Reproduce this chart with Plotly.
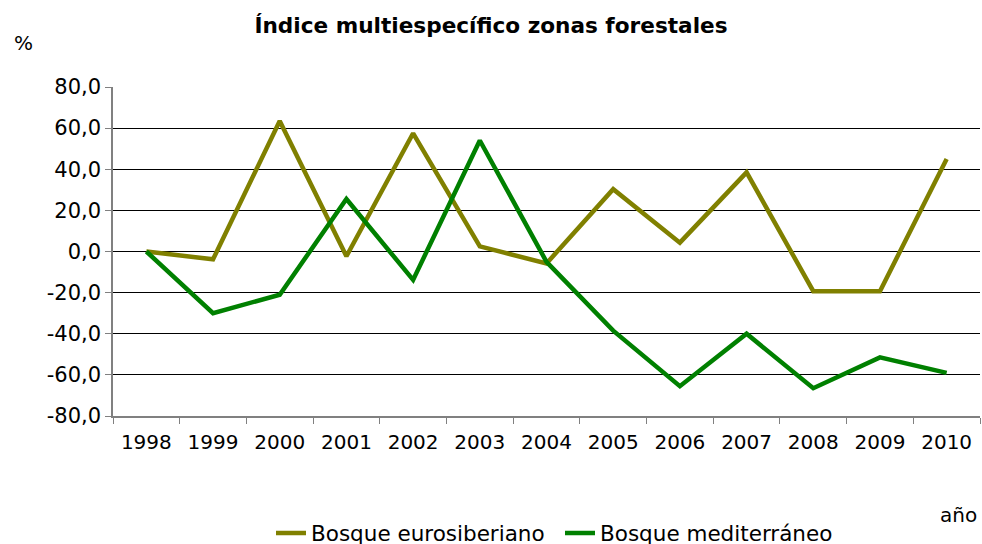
import plotly.graph_objects as go

years = ["1998", "1999", "2000", "2001", "2002", "2003", "2004",
         "2005", "2006", "2007", "2008", "2009", "2010"]
eurosiberiano = [0.0, -3.8, 63.5, -2.3, 57.5, 2.5, -5.8, 30.3, 4.3, 38.5, -19.3, -19.3, 45.0]
mediterraneo = [0.0, -30.0, -21.0, 25.5, -13.8, 54.0, -5.0, -38.5, -65.5, -40.0, -66.5, -51.5, -59.0]
y_ticks = [-80, -60, -40, -20, 0, 20, 40, 60, 80]
y_labels = ["-80,0", "-60,0", "-40,0", "-20,0", "0,0", "20,0", "40,0", "60,0", "80,0"]

FONT = "DejaVu Sans"
FS = 20

W, H = 982, 544
L, T = 113, 87
R = W - 980
B = H - 416
PW, PH = W - L - R, H - T - B


def px_x(x):  # pixel -> paper coord
    return (x - L) / PW


def px_y(y):
    return 1 - (y - T) / PH


fig = go.Figure()
fig.add_trace(go.Scatter(x=years, y=eurosiberiano, mode="lines", name="Bosque eurosiberiano",
                         line=dict(color="#808000", width=4.5)))
fig.add_trace(go.Scatter(x=years, y=mediterraneo, mode="lines", name="Bosque mediterráneo",
                         line=dict(color="#008000", width=4.5)))

fig.update_layout(
    width=W, height=H,
    margin=dict(l=L, r=R, t=T, b=B, autoexpand=False),
    paper_bgcolor="white", plot_bgcolor="white",
    font=dict(family=FONT, size=FS, color="black"),
    title=dict(text="<b>Índice multiespecífico zonas forestales</b>", x=0.5, xanchor="center",
               y=1 - 25 / H, yanchor="middle", font=dict(family=FONT, size=21.6, color="black")),
    showlegend=True,
    legend=dict(orientation="h", x=px_x(271), xanchor="left",
                y=px_y(533), yanchor="middle",
                font=dict(family=FONT, size=21.5, color="black"),
                entrywidth=244, entrywidthmode="pixels",
                traceorder="normal", bgcolor="rgba(0,0,0,0)"),
    xaxis=dict(type="category", range=[-0.5, 12.5], tickson="boundaries",
               ticks="outside", ticklen=6, tickcolor="#808080",
               showline=True, linecolor="#808080", linewidth=1.5,
               showgrid=False, tickfont=dict(family=FONT, size=FS),
               ticklabelstandoff=7),
    yaxis=dict(range=[-80, 80], tickvals=y_ticks, ticktext=y_labels,
               ticks="outside", ticklen=6, tickcolor="#808080",
               showline=True, linecolor="#808080", linewidth=1.5,
               showgrid=True, gridcolor="#000000", gridwidth=1,
               zeroline=False, tickfont=dict(family=FONT, size=21)),
    annotations=[
        dict(text="%", xref="paper", yref="paper", x=px_x(12), y=px_y(43),
             xanchor="left", yanchor="middle", showarrow=False,
             font=dict(family=FONT, size=FS)),
        dict(text="año", xref="paper", yref="paper", x=px_x(979), y=px_y(515),
             xanchor="right", yanchor="middle", showarrow=False,
             font=dict(family=FONT, size=FS)),
    ],
)

fig.write_html(
    "out.html",
    config={"displayModeBar": False},
    post_script="document.body.style.margin='0';document.body.style.overflow='hidden';",
)
